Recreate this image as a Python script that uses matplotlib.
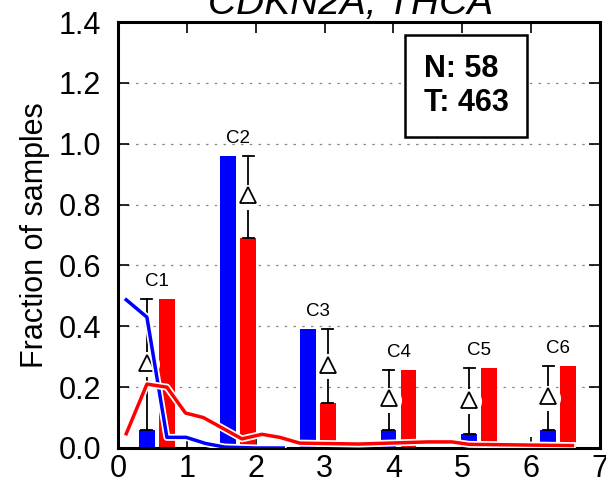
import numpy as np
import matplotlib.pyplot as plt
import matplotlib.patheffects as pe

plt.rcParams['font.family'] = ['Liberation Sans', 'DejaVu Sans']

# category bars (N = blue, T = red)
labels = ['C1', 'C2', 'C3', 'C4', 'C5', 'C6']
pos = [0.42, 1.60, 2.76, 3.93, 5.10, 6.25]
normal_frac = [0.06, 0.96, 0.39, 0.06, 0.045, 0.06]
tumor_frac = [0.49, 0.69, 0.148, 0.256, 0.262, 0.27]

# distribution lines
normal_x = [0.12, 0.42, 0.71, 0.99, 1.27, 1.55, 2.0, 2.4]
normal_y = [0.487, 0.43, 0.035, 0.035, 0.015, 0.003, 0.0, 0.0]
tumor_x = [0.12, 0.42, 0.71, 0.98, 1.24, 1.80, 2.09, 2.35, 2.64, 3.5, 4.5, 4.85, 5.1, 6.6]
tumor_y = [0.047, 0.21, 0.20, 0.115, 0.10, 0.03, 0.045, 0.035, 0.016, 0.013, 0.02, 0.02, 0.012, 0.008]

n_count, t_count = 58, 463

fig = plt.figure(figsize=(6.06, 4.86), dpi=100)
ax = fig.add_axes([0.1947, 0.0782, 0.7953, 0.8765])

bw = 0.23
off = 0.29
pos = np.array(pos)
ax.bar(pos, normal_frac, width=bw, color='#0000ff', zorder=2)
ax.bar(pos + off, tumor_frac, width=bw, color='#ff0000', zorder=2)

# difference markers between the two bars of each pair
for i in range(len(labels)):
    b, r = normal_frac[i], tumor_frac[i]
    xe = pos[i] if b < r else pos[i] + off
    lo, hi = min(b, r), max(b, r)
    mid = (lo + hi) / 2
    ax.plot([xe, xe], [lo, hi], color='black', lw=1.3, zorder=3)
    ax.plot([xe - 0.08, xe + 0.08], [hi, hi], color='black', lw=1.3, zorder=3)
    ax.plot([xe - 0.08, xe + 0.08], [lo, lo], color='black', lw=1.3, zorder=3)
    ax.plot(xe, mid, marker='o', ms=17, mfc='white', mec='white', zorder=3.5)
    ax.plot(xe, mid + 0.005, marker='^', ms=11, mfc='white', mec='black', mew=1.3, zorder=4)
    ax.text(pos[i] + off / 2, hi + 0.03, labels[i], ha='center', va='bottom', fontsize=13.5)

stroke = [pe.Stroke(linewidth=5, foreground='white'), pe.Normal()]
ax.plot(normal_x, normal_y, color='#0000ff', lw=2.5, zorder=5, path_effects=stroke)
ax.plot(tumor_x, tumor_y, color='#ff0000', lw=2.5, zorder=6, path_effects=stroke)

ax.set_xlim(0, 7)
ax.set_ylim(0, 1.4)
ax.set_xticks(range(8))
ax.set_yticks(np.arange(0, 1.41, 0.2))
ax.set_yticklabels([f'{v:.1f}' for v in np.arange(0, 1.41, 0.2)])
ax.tick_params(direction='in', length=8, width=1.2, labelsize=22,
               top=True, right=True)
ax.tick_params(axis='x', pad=4)
ax.tick_params(axis='y', pad=12)
for s in ax.spines.values():
    s.set_linewidth(2.2)
ax.yaxis.grid(True, linestyle=(0, (2, 5)), color='#888888', lw=0.9, zorder=0)
ax.set_axisbelow(True)
ax.set_ylabel('Fraction of samples', fontsize=22, labelpad=6)

ax.text(0.722, 0.85, f'N: {n_count}\nT: {t_count}', transform=ax.transAxes,
        fontsize=22, fontweight='bold', ha='center', va='center', multialignment='left',
        bbox=dict(boxstyle='square,pad=0.62', fc='white', ec='black', lw=1.8))

fig.text(0.578, 0.972, 'CDKN2A, THCA', ha='center', va='baseline',
         fontsize=28, style='italic')

fig.savefig('out.png', dpi=100)
